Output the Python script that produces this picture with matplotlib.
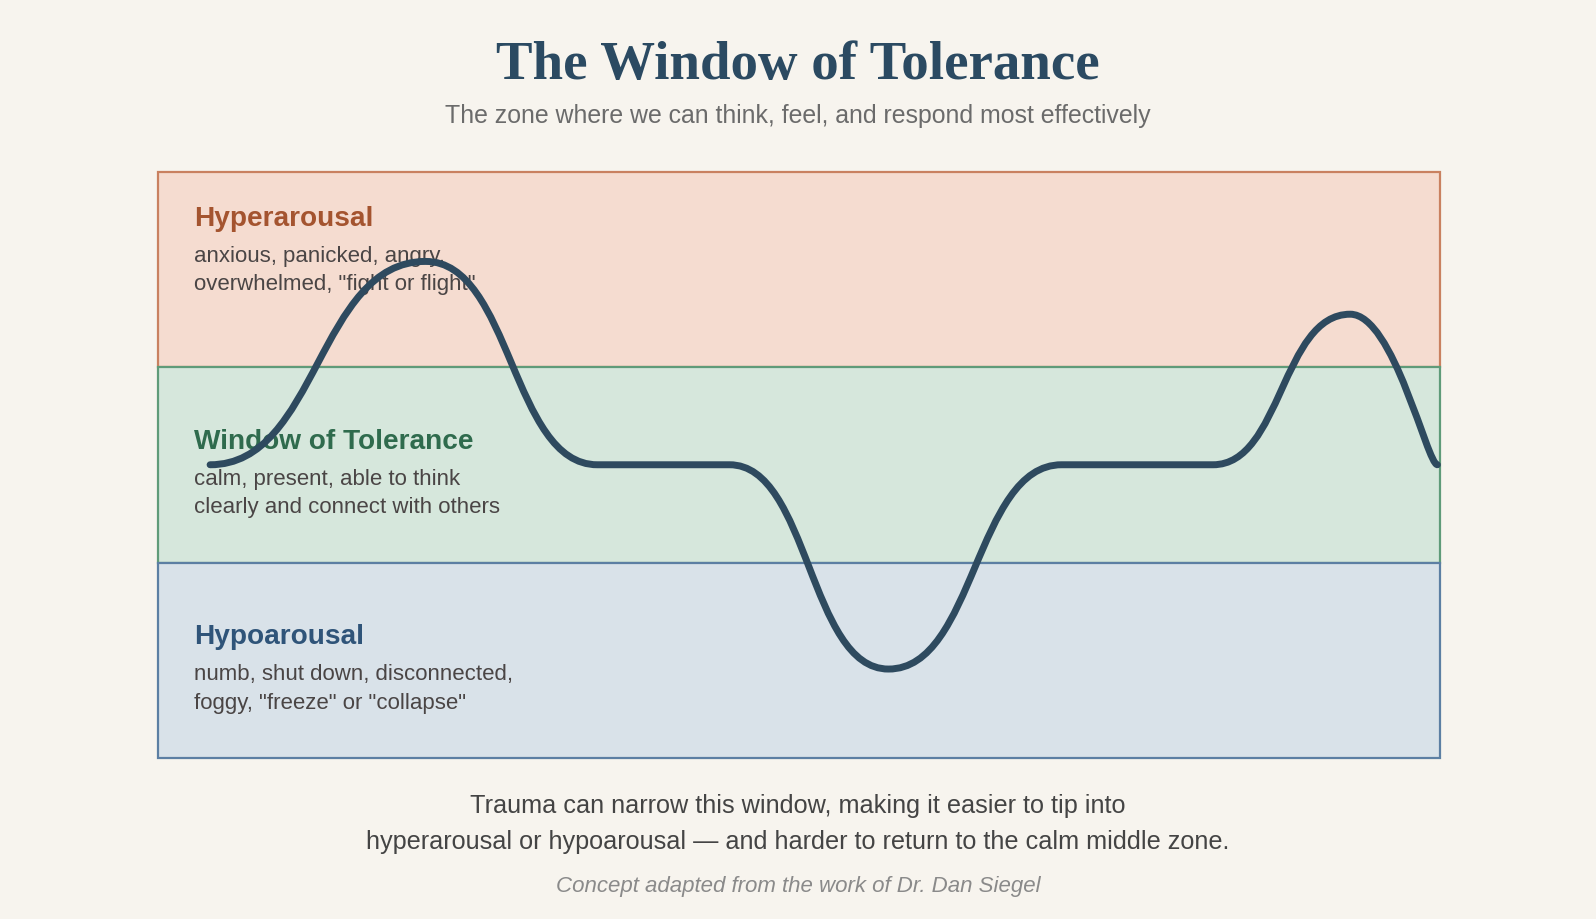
import matplotlib
matplotlib.use("Agg")
import matplotlib.pyplot as plt
from matplotlib.patches import Rectangle, PathPatch
from matplotlib.path import Path

# ---------------------------
# DATA
# ---------------------------

zone_names = ["Hyperarousal", "Window of Tolerance", "Hypoarousal"]
zone_lower = [2, 1, 0]
zone_upper = [3, 2, 1]
zone_desc = [
    ["anxious, panicked, angry,", "overwhelmed, \"fight or flight\""],
    ["calm, present, able to think", "clearly and connect with others"],
    ["numb, shut down, disconnected,", "foggy, \"freeze\" or \"collapse\""],
]

# arousal curve: anchor points (time 0-100, arousal level 0-3)
curve_x = [4.1, 20.9, 34.3, 44.6, 57.0, 70.5, 82.3, 93.0, 99.8]
curve_y = [1.50, 2.54, 1.50, 1.50, 0.455, 1.50, 1.50, 2.27, 1.50]

title = "The Window of Tolerance"
subtitle = "The zone where we can think, feel, and respond most effectively"
note_lines = [
    "Trauma can narrow this window, making it easier to tip into",
    "hyperarousal or hypoarousal \u2014 and harder to return to the calm middle zone.",
]
credit = "Concept adapted from the work of Dr. Dan Siegel"

# ---------------------------
# STYLE
# ---------------------------

BG = "#f7f4ee"
fills = ["#f5dcd0", "#d6e7dc", "#d9e2e9"]
edges = ["#c98160", "#5f9b79", "#5c7fa3"]
label_colors = ["#a4542f", "#2f6b4d", "#2f5479"]
DESC_COLOR = "#4a4545"
CURVE_COLOR = "#2e4a5f"

W, H = 1596, 920
fig = plt.figure(figsize=(W / 100, H / 100), dpi=100, facecolor=BG)

# box: left 157.5px, right 1440px, top 172.5px, bottom 759px
ax = fig.add_axes([157.5 / W, (H - 759) / H, 1282.5 / W, 586.5 / H])
ax.set_xlim(0, 100)
ax.set_ylim(0, 3)
ax.axis("off")

for i in range(3):
    rect = Rectangle((0, zone_lower[i]), 100, zone_upper[i] - zone_lower[i],
                     facecolor=fills[i], edgecolor=edges[i], linewidth=1.6,
                     clip_on=False, zorder=1 + i * 0.1)
    ax.add_patch(rect)

# text rows (px from top of figure)
label_base = [226, 449, 644.5]
desc_base = [[261.5, 290], [484.5, 513], [680, 708.5]]
px_to_y = lambda py: (759 - py) / 195.5
txt_x = (194.5 - 157.5) / 12.825

for i in range(3):
    ax.text(txt_x, px_to_y(label_base[i]), zone_names[i], family="Liberation Sans",
            fontweight="bold", fontsize=20.2, color=label_colors[i],
            va="baseline", ha="left", zorder=3)
    for line, yb in zip(zone_desc[i], desc_base[i]):
        ax.text(txt_x, px_to_y(yb), line, family="Liberation Sans",
                fontsize=16, color=DESC_COLOR, va="baseline", ha="left", zorder=3)

# curve as smooth bezier through anchors
verts = [(curve_x[0], curve_y[0])]
codes = [Path.MOVETO]
last = len(curve_x) - 2
for i in range(len(curve_x) - 1):
    x0, y0 = curve_x[i], curve_y[i]
    x1, y1 = curve_x[i + 1], curve_y[i + 1]
    dx = x1 - x0
    c1 = (x0 + 0.5 * dx, y0)
    # last stretch drops steeply and only hooks at the very end
    c2 = (x1 - (0.12 if i == last else 0.5) * dx, y1)
    verts += [c1, c2, (x1, y1)]
    codes += [Path.CURVE4] * 3

ax.add_patch(PathPatch(Path(verts, codes), facecolor="none", edgecolor=CURVE_COLOR,
                       linewidth=5, capstyle="round", joinstyle="round",
                       clip_on=False, zorder=4))

# ---------------------------
# TITLES / NOTES
# ---------------------------

def ftext(px_y, s, **kw):
    fig.text(0.5, 1 - px_y / H, s, ha="center", va="baseline", **kw)

ftext(78.5, title, family="Liberation Serif", fontweight="bold", fontsize=39.5, color="#2b4a62")
ftext(123, subtitle, family="Liberation Sans", fontsize=17.9, color="#6b6b6b")
ftext(813, note_lines[0], family="Liberation Sans", fontsize=18.2, color="#444444")
ftext(849, note_lines[1], family="Liberation Sans", fontsize=18.2, color="#444444")
ftext(892, credit, family="Liberation Sans", style="italic", fontsize=16, color="#8a8a8a")

fig.savefig("out.png", dpi=100, facecolor=BG)
